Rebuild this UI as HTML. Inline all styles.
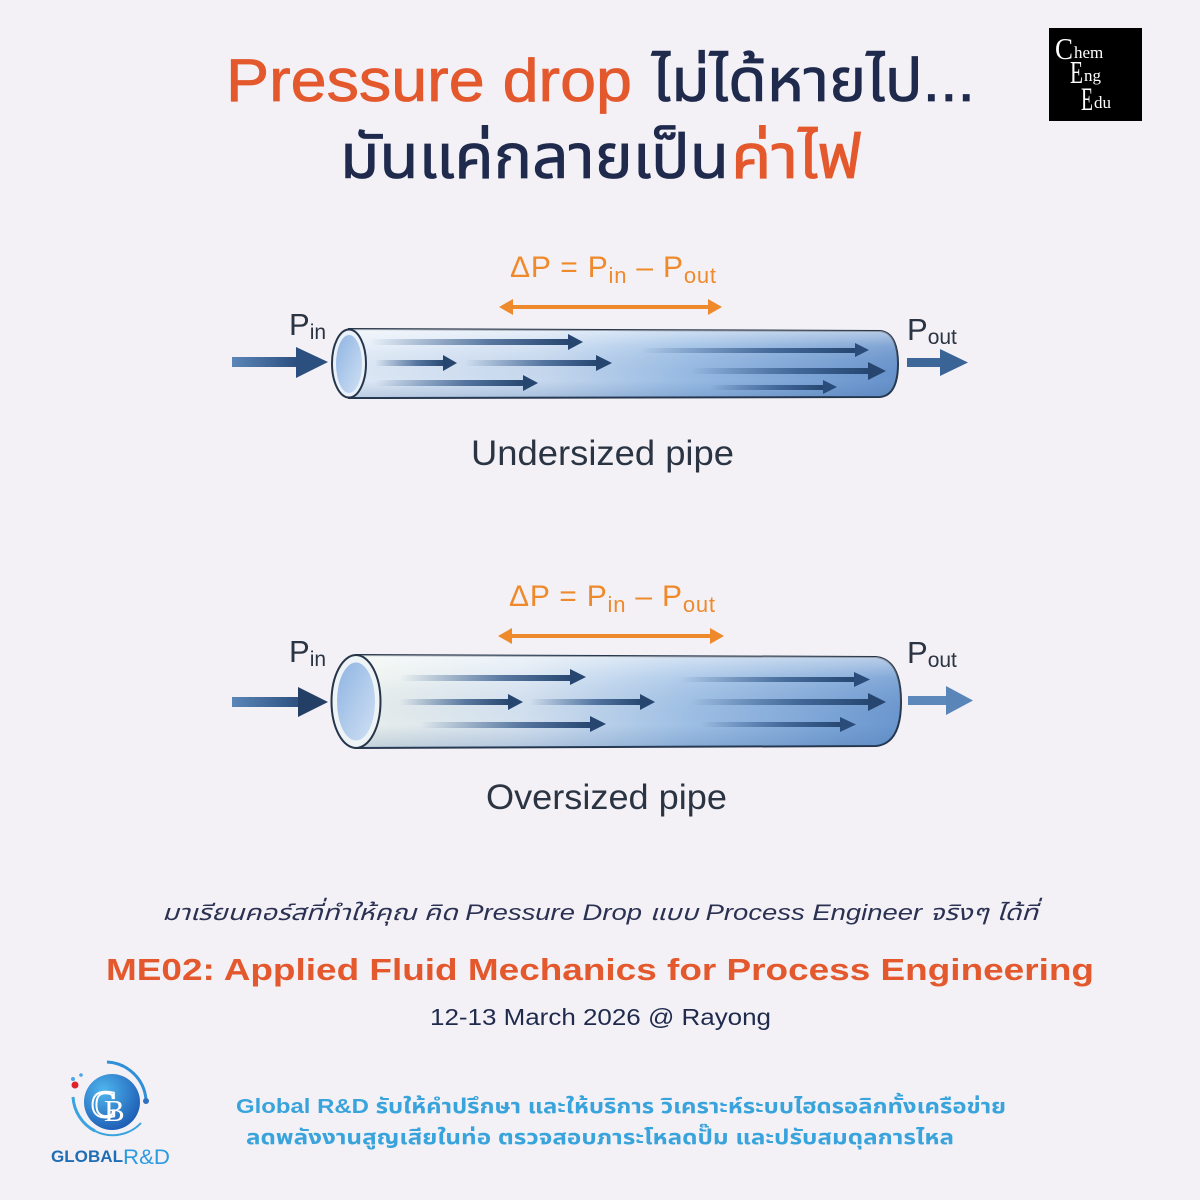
<!DOCTYPE html>
<html><head><meta charset="utf-8"><style>
html,body{margin:0;padding:0;background:#f3f1f6;}
svg{display:block;}
text{font-family:"Liberation Sans","Noto Sans Thai","Loma","Garuda","Waree","Tlwg Typo","DejaVu Sans",sans-serif;}
.serif{font-family:"Liberation Serif","DejaVu Serif",serif;}
</style></head><body>
<svg width="1200" height="1200" viewBox="0 0 1200 1200" xmlns="http://www.w3.org/2000/svg">
<defs>
<linearGradient id="pipeA" gradientUnits="userSpaceOnUse" x1="349" y1="0" x2="898" y2="0">
<stop offset="0" stop-color="#e4edf8"/><stop offset="0.35" stop-color="#cbdcf1"/><stop offset="0.62" stop-color="#9abde5"/><stop offset="1" stop-color="#6893cc"/>
</linearGradient>
<linearGradient id="pipeB" gradientUnits="userSpaceOnUse" x1="356" y1="0" x2="901" y2="0">
<stop offset="0" stop-color="#eef3ee"/><stop offset="0.3" stop-color="#d9e5f2"/><stop offset="0.6" stop-color="#a3c3e7"/><stop offset="1" stop-color="#6b98d0"/>
</linearGradient>
<linearGradient id="shadeV" x1="0" y1="0" x2="0" y2="1">
<stop offset="0" stop-color="#ffffff" stop-opacity="0.55"/><stop offset="0.25" stop-color="#ffffff" stop-opacity="0.15"/><stop offset="0.75" stop-color="#2c5a94" stop-opacity="0.03"/><stop offset="1" stop-color="#2c5a94" stop-opacity="0.22"/>
</linearGradient>
<linearGradient id="inner" x1="0" y1="0" x2="1" y2="1">
<stop offset="0" stop-color="#8fb4e2"/><stop offset="1" stop-color="#cfe0f4"/>
</linearGradient>
<linearGradient id="shaft" x1="0" y1="0" x2="1" y2="0">
<stop offset="0" stop-color="#2c5284" stop-opacity="0"/><stop offset="0.6" stop-color="#2c5284" stop-opacity="0.75"/><stop offset="1" stop-color="#26466f" stop-opacity="1"/>
</linearGradient>
<linearGradient id="inArrow" x1="0" y1="0" x2="1" y2="0">
<stop offset="0" stop-color="#5b86b8"/><stop offset="1" stop-color="#2b4f7e"/>
</linearGradient>
<radialGradient id="gb" cx="0.35" cy="0.3" r="0.8">
<stop offset="0" stop-color="#4fb6ee"/><stop offset="1" stop-color="#1a56b0"/>
</radialGradient>
</defs>

<!-- Title -->
<text x="226" y="101" font-size="60" fill="#e4582d" stroke="#e4582d" stroke-width="0.8" textLength="406" lengthAdjust="spacingAndGlyphs">Pressure drop</text>
<text x="652" y="101" font-size="60" fill="#1f2a4d" stroke="#1f2a4d" stroke-width="0.8" textLength="323" lengthAdjust="spacingAndGlyphs">ไม่ได้หายไป...</text>
<text x="340" y="178" font-size="62" fill="#1f2a4d" stroke="#1f2a4d" stroke-width="0.8" textLength="389" lengthAdjust="spacingAndGlyphs">มันแค่กลายเป็น</text>
<text x="731" y="178" font-size="62" fill="#e4582d" stroke="#e4582d" stroke-width="0.8" textLength="131" lengthAdjust="spacingAndGlyphs">ค่าไฟ</text>

<!-- ChemEngEdu logo -->
<rect x="1049" y="28" width="93" height="93" fill="#000"/>
<text class="serif" x="1055" y="59" font-size="31" fill="#fff" textLength="18" lengthAdjust="spacingAndGlyphs">C</text>
<text class="serif" x="1074" y="58" font-size="17" fill="#fff">hem</text>
<text class="serif" x="1070" y="83" font-size="32" fill="#fff" textLength="13" lengthAdjust="spacingAndGlyphs">E</text>
<text class="serif" x="1084" y="81" font-size="17" fill="#fff">ng</text>
<text class="serif" x="1081" y="110" font-size="33" fill="#fff" textLength="12" lengthAdjust="spacingAndGlyphs">E</text>
<text class="serif" x="1094" y="108" font-size="17" fill="#fff">du</text>

<!-- ===== Top diagram ===== -->
<text x="510" y="277" font-size="30" fill="#ef8a2c" letter-spacing="0.8">ΔP = P<tspan font-size="22" dy="6">in</tspan><tspan dy="-6"> – P</tspan><tspan font-size="22" dy="6">out</tspan></text>
<g fill="#ef8a2c" stroke="none">
<rect x="508" y="305" width="205" height="4"/>
<polygon points="499,307 513,299 513,315"/>
<polygon points="722,307 708,299 708,315"/>
</g>

<rect x="232" y="357" width="66" height="10" fill="url(#inArrow)"/>
<polygon points="296,347 328,362 296,378" fill="#2b4f7e"/>
<text x="289" y="335" font-size="31" fill="#2b3442">P<tspan font-size="21" dy="4">in</tspan></text>

<path d="M349,329 L880,331 C894,332 898,348 898,364 C898,380 894,396 880,397 L349,398 Z" fill="url(#pipeA)" stroke="#26354a" stroke-width="2"/>
<path d="M349,329 L880,331 C894,332 898,348 898,364 C898,380 894,396 880,397 L349,398 Z" fill="url(#shadeV)"/>
<g>
<rect x="370" y="339" width="200" height="6" fill="url(#shaft)"/><polygon points="568,334 583,342 568,350" fill="#26466f"/>
<rect x="375" y="360" width="70" height="6" fill="url(#shaft)"/><polygon points="443,355 457,363 443,371" fill="#26466f"/>
<rect x="465" y="360" width="133" height="6" fill="url(#shaft)"/><polygon points="596,355 612,363 596,371" fill="#26466f"/>
<rect x="375" y="380" width="150" height="6" fill="url(#shaft)"/><polygon points="523,375 538,383 523,391" fill="#26466f"/>
<rect x="640" y="348" width="217" height="5" fill="url(#shaft)"/><polygon points="855,343 869,350 855,357" fill="#2a4c7a"/>
<rect x="690" y="368" width="180" height="6" fill="url(#shaft)"/><polygon points="868,362 886,371 868,380" fill="#26466f"/>
<rect x="710" y="385" width="115" height="5" fill="url(#shaft)"/><polygon points="823,380 837,387 823,394" fill="#2a4c7a"/>
</g>
<ellipse cx="349" cy="363.5" rx="17" ry="34" fill="#eaf1fa" stroke="#26354a" stroke-width="2"/>
<ellipse cx="349" cy="364" rx="13" ry="29" fill="url(#inner)"/>

<rect x="907" y="358" width="35" height="9" fill="#3d6799"/>
<polygon points="940,349 968,362.5 940,376" fill="#3a6496"/>
<text x="907" y="340" font-size="31" fill="#2b3442">P<tspan font-size="21" dy="4">out</tspan></text>

<text x="471" y="465" font-size="35" fill="#2b3442" textLength="263" lengthAdjust="spacingAndGlyphs">Undersized pipe</text>

<!-- ===== Bottom diagram ===== -->
<text x="509" y="606" font-size="30" fill="#ef8a2c" letter-spacing="0.8">ΔP = P<tspan font-size="22" dy="6">in</tspan><tspan dy="-6"> – P</tspan><tspan font-size="22" dy="6">out</tspan></text>
<g fill="#ef8a2c">
<rect x="507" y="634" width="208" height="4"/>
<polygon points="498,636 512,628 512,644"/>
<polygon points="724,636 710,628 710,644"/>
</g>

<rect x="232" y="697" width="68" height="10" fill="url(#inArrow)"/>
<polygon points="298,687 328,702 298,717" fill="#243f66"/>
<text x="289" y="662" font-size="31" fill="#2b3442">P<tspan font-size="21" dy="4">in</tspan></text>

<path d="M356,655 L876,657 C896,659 901,680 901,702 C901,724 896,744 876,746 L356,748 Z" fill="url(#pipeB)" stroke="#26354a" stroke-width="2"/>
<path d="M356,655 L876,657 C896,659 901,680 901,702 C901,724 896,744 876,746 L356,748 Z" fill="url(#shadeV)"/>
<g>
<rect x="400" y="675" width="172" height="6" fill="url(#shaft)"/><polygon points="570,669 586,677 570,685" fill="#26466f"/>
<rect x="400" y="699" width="110" height="6" fill="url(#shaft)"/><polygon points="508,694 523,702 508,710" fill="#26466f"/>
<rect x="530" y="699" width="112" height="6" fill="url(#shaft)"/><polygon points="640,694 655,702 640,710" fill="#26466f"/>
<rect x="420" y="722" width="172" height="6" fill="url(#shaft)"/><polygon points="590,716 606,724 590,732" fill="#26466f"/>
<rect x="680" y="677" width="176" height="5" fill="url(#shaft)"/><polygon points="854,672 870,679.5 854,687" fill="#2a4c7a"/>
<rect x="690" y="699" width="180" height="6" fill="url(#shaft)"/><polygon points="868,693 886,702 868,711" fill="#26466f"/>
<rect x="700" y="722" width="142" height="5" fill="url(#shaft)"/><polygon points="840,717 856,724.5 840,732" fill="#2a4c7a"/>
</g>
<ellipse cx="356" cy="701.5" rx="24.5" ry="46.5" fill="#eef3f6" stroke="#26354a" stroke-width="2"/>
<ellipse cx="356" cy="701.5" rx="19" ry="39" fill="url(#inner)"/>

<rect x="908" y="696" width="40" height="9" fill="#5d88bb"/>
<polygon points="946,686 973,700.5 946,715" fill="#5a85b8"/>
<text x="907" y="663" font-size="31" fill="#2b3442">P<tspan font-size="21" dy="4">out</tspan></text>

<text x="486" y="809" font-size="35" fill="#2b3442" textLength="241" lengthAdjust="spacingAndGlyphs">Oversized pipe</text>

<!-- Bottom texts -->
<text x="162" y="920" font-size="22" font-style="italic" fill="#2b3152" textLength="876" lengthAdjust="spacingAndGlyphs">มาเรียนคอร์สที่ทำให้คุณ คิด Pressure Drop แบบ Process Engineer จริงๆ ได้ที่</text>
<text x="106" y="980" font-size="31" font-weight="bold" fill="#e4582d" textLength="988" lengthAdjust="spacingAndGlyphs">ME02: Applied Fluid Mechanics for Process Engineering</text>
<text x="430" y="1025" font-size="23" fill="#1f2a4d" textLength="341" lengthAdjust="spacingAndGlyphs">12-13 March 2026 @ Rayong</text>

<text x="236" y="1113" font-size="20" font-weight="bold" fill="#39a3dc" textLength="770" lengthAdjust="spacingAndGlyphs">Global R&amp;D รับให้คำปรึกษา และให้บริการ วิเคราะห์ระบบไฮดรอลิกทั้งเครือข่าย</text>
<text x="246" y="1144" font-size="20" font-weight="bold" fill="#39a3dc" textLength="708" lengthAdjust="spacingAndGlyphs">ลดพลังงานสูญเสียในท่อ ตรวจสอบภาระโหลดปั๊ม และปรับสมดุลการไหล</text>

<!-- Global R&D logo -->
<path d="M107,1062 A41,41 0 0 1 146,1100" fill="none" stroke="#2f8fd8" stroke-width="3"/>
<circle cx="146" cy="1101" r="3" fill="#2f6fc0"/>
<path d="M73,1097 A41,41 0 0 0 95,1131" fill="none" stroke="#3aa3e0" stroke-width="3"/>
<path d="M95,1131 A39,39 0 0 0 141,1123" fill="none" stroke="#3aa3e0" stroke-width="2"/>
<circle cx="112" cy="1102" r="28" fill="url(#gb)"/>
<text class="serif" x="91" y="1117" font-size="38" fill="none" stroke="#ffffff" stroke-width="2">C</text>
<text class="serif" x="104" y="1121" font-size="31" fill="#ffffff">B</text>
<circle cx="75" cy="1085" r="3.5" fill="#e0202a"/>
<circle cx="73" cy="1079" r="2" fill="#4aa8e6"/>
<circle cx="81" cy="1075" r="1.8" fill="#4aa8e6"/>
<text x="51" y="1162" font-size="17" font-weight="bold" fill="#1f6db5" textLength="72" lengthAdjust="spacingAndGlyphs">GLOBAL</text>
<text x="123" y="1164" font-size="21" fill="#2c9be0" textLength="47" lengthAdjust="spacingAndGlyphs">R&amp;D</text>
</svg>
</body></html>
